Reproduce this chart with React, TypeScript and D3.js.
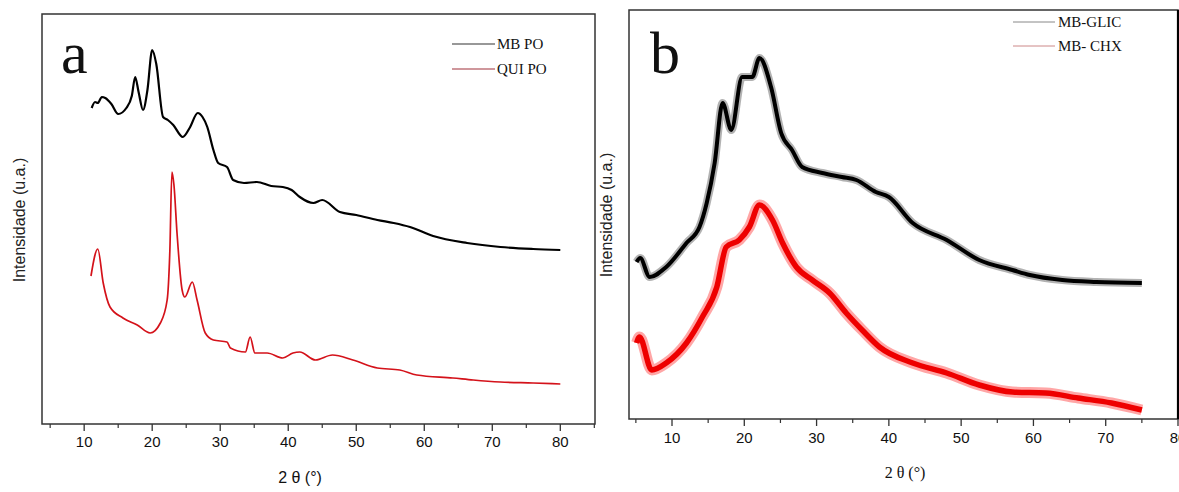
import React from "react";
import * as d3 from "d3";

// ---------- data (2θ in degrees, intensity in arbitrary units) ----------
const mbPo: [number, number][] = [
  [11.1, 316], [11.6, 322], [12.0, 321], [12.6, 327], [13.1, 326], [14.0, 320], [15.0, 310],
  [16.2, 316], [17.0, 328], [17.5, 347], [18.0, 332], [18.65, 314], [19.3, 334], [20.0, 374],
  [20.6, 360], [21.6, 307], [22.3, 304], [23.1, 299], [24.5, 287], [25.5, 296], [26.7, 311],
  [27.4, 307], [28.1, 297], [29.0, 274], [29.7, 261], [31.0, 257], [31.9, 244], [33.5, 241],
  [35.4, 242], [37.5, 238], [39.2, 237], [40.5, 234], [41.7, 227], [43.7, 221], [45.0, 224],
  [47.6, 212], [50.0, 209], [53.1, 204], [55.5, 201], [57.9, 197], [61.3, 188], [66.3, 181],
  [71.2, 177], [76.0, 175], [80.0, 174],
];
const quiPo: [number, number][] = [
  [11.0, 148], [12.0, 175], [12.8, 141], [13.8, 117], [15.7, 106], [17.8, 99], [19.7, 91],
  [21.2, 101], [22.2, 124], [22.6, 174], [22.9, 252], [23.2, 239], [23.65, 191], [24.4, 134],
  [24.8, 127], [25.9, 142], [26.6, 124], [27.8, 91], [29.0, 84], [31.0, 82], [31.5, 76],
  [33.7, 72], [34.4, 87], [35.1, 71], [36.9, 71], [39.2, 66], [40.7, 71], [41.7, 72],
  [44.0, 64], [46.5, 69], [49.5, 64], [53.1, 56], [56.4, 54], [58.9, 49], [64.2, 46],
  [67.2, 44], [71.2, 42], [76.0, 41], [80.0, 40],
];
const mbGlic: [number, number][] = [
  [5.1, 157], [5.6, 161], [6.9, 142], [9.2, 152], [12.0, 176], [13.8, 192], [14.8, 216],
  [15.9, 256], [17.0, 316], [18.2, 289], [19.7, 342], [21.1, 342], [22.1, 361], [23.7, 332],
  [25.1, 286], [26.6, 269], [28.0, 252], [30.8, 246], [33.5, 242], [35.5, 239], [38.2, 227],
  [40.0, 222], [43.3, 196], [48.0, 179], [52.5, 159], [57.1, 149], [59.5, 144], [64.0, 139],
  [68.7, 137], [75.0, 136],
];
const mbChx: [number, number][] = [
  [5.1, 76], [5.5, 82], [7.2, 49], [9.2, 56], [12.0, 76], [14.2, 102], [16.2, 132],
  [17.5, 172], [19.3, 179], [20.7, 192], [22.1, 214], [23.9, 199], [25.3, 176], [27.2, 152],
  [29.4, 139], [31.8, 126], [34.1, 106], [36.3, 89], [38.7, 72], [43.3, 56], [48.0, 46],
  [52.5, 34], [57.1, 27], [61.7, 26], [66.2, 21], [70.8, 16], [75.0, 9],
];
const majorTicksA = [10, 20, 30, 40, 50, 60, 70, 80];
const minorTicksA = [5, 15, 25, 35, 45, 55, 65, 75, 85];
const majorTicksB = [10, 20, 30, 40, 50, 60, 70, 80];
const minorTicksB = [5, 15, 25, 35, 45, 55, 65, 75];

const SANS = "'Liberation Sans', Arial, sans-serif";
const SERIF = "'Liberation Serif', 'Times New Roman', serif";

export default function App() {
  // Panel a
  const ax = d3.scaleLinear().domain([3.8, 85.1]).range([42, 595]);
  const ay = d3.scaleLinear().domain([0, 410]).range([424, 14]);
  // Panel b
  const bx = d3.scaleLinear().domain([4.05, 80]).range([629, 1178]);
  const by = d3.scaleLinear().domain([0, 409]).range([419, 10]);

  const lineA = d3
    .line<[number, number]>()
    .x((d) => ax(d[0]))
    .y((d) => ay(d[1]))
    .curve(d3.curveMonotoneX);
  const lineB = d3
    .line<[number, number]>()
    .x((d) => bx(d[0]))
    .y((d) => by(d[1]))
    .curve(d3.curveMonotoneX);

  return (
    <svg width={1179} height={492} style={{ position: "absolute", left: 0, top: 0, background: "#fff" }}>
      {/* ---------- panel a ---------- */}
      <rect x={42} y={14} width={553} height={410} fill="none" stroke="#333" strokeWidth={1.5} />
      {majorTicksA.map((t) => (
        <g key={"am" + t}>
          <line x1={ax(t)} x2={ax(t)} y1={424} y2={431} stroke="#333" strokeWidth={1.3} />
          <text x={ax(t)} y={447} textAnchor="middle" fontFamily={SANS} fontSize={15} fill="#111">{t}</text>
        </g>
      ))}
      {minorTicksA.map((t) => (
        <line key={"an" + t} x1={ax(t)} x2={ax(t)} y1={424} y2={428} stroke="#333" strokeWidth={1.2} />
      ))}
      <text x={300} y={483} textAnchor="middle" fontFamily={SANS} fontSize={16} fill="#111">2 θ (°)</text>
      <text transform="translate(25,220) rotate(-90)" textAnchor="middle" fontFamily={SANS} fontSize={16} fill="#222">Intensidade (u.a.)</text>
      <text x={61} y={73} fontFamily={SERIF} fontSize={60} fill="#111">a</text>
      <path d={lineA(mbPo) || ""} fill="none" stroke="#000" strokeWidth={2.2} strokeLinejoin="round" />
      <path d={lineA(quiPo) || ""} fill="none" stroke="#d4121a" strokeWidth={1.7} strokeLinejoin="round" />
      <line x1={452} x2={495} y1={44} y2={44} stroke="#333" strokeWidth={1.2} />
      <text x={497} y={49} fontFamily={SERIF} fontSize={15} fill="#111">MB PO</text>
      <line x1={452} x2={495} y1={69} y2={69} stroke="#a0303a" strokeWidth={1.2} />
      <text x={497} y={74} fontFamily={SERIF} fontSize={15} fill="#111">QUI PO</text>

      {/* ---------- panel b ---------- */}
      <rect x={629} y={10} width={549} height={409} fill="none" stroke="#333" strokeWidth={1.5} />
      <line x1={1178} x2={1178} y1={10} y2={419} stroke="#000" strokeWidth={2.2} />
      {majorTicksB.map((t) => (
        <g key={"bm" + t}>
          <line x1={bx(t)} x2={bx(t)} y1={419} y2={426} stroke="#333" strokeWidth={1.3} />
          <text x={bx(t)} y={443} textAnchor="middle" fontFamily={SANS} fontSize={15} fill="#111">{t}</text>
        </g>
      ))}
      {minorTicksB.map((t) => (
        <line key={"bn" + t} x1={bx(t)} x2={bx(t)} y1={419} y2={423} stroke="#333" strokeWidth={1.2} />
      ))}
      <text x={905} y={478} textAnchor="middle" fontFamily={SERIF} fontSize={16} fill="#111">2 θ (°)</text>
      <text transform="translate(612,215) rotate(-90)" textAnchor="middle" fontFamily={SANS} fontSize={16} fill="#222">Intensidade (u.a.)</text>
      <text x={650} y={73} fontFamily={SERIF} fontSize={60} fill="#111">b</text>
      <path d={lineB(mbGlic) || ""} fill="none" stroke="#000" strokeWidth={8} strokeLinejoin="round" opacity={0.3} />
      <path d={lineB(mbGlic) || ""} fill="none" stroke="#000" strokeWidth={4} strokeLinejoin="round" />
      <path d={lineB(mbChx) || ""} fill="none" stroke="#ff0000" strokeWidth={11} strokeLinejoin="round" opacity={0.35} />
      <path d={lineB(mbChx) || ""} fill="none" stroke="#ee0000" strokeWidth={5.5} strokeLinejoin="round" />
      <line x1={1013} x2={1055} y1={22} y2={22} stroke="#888" strokeWidth={1} />
      <text x={1058} y={27} fontFamily={SERIF} fontSize={15} fill="#111">MB-GLIC</text>
      <line x1={1013} x2={1055} y1={46} y2={46} stroke="#c88" strokeWidth={1} />
      <text x={1058} y={51} fontFamily={SERIF} fontSize={15} fill="#111">MB- CHX</text>
    </svg>
  );
}
